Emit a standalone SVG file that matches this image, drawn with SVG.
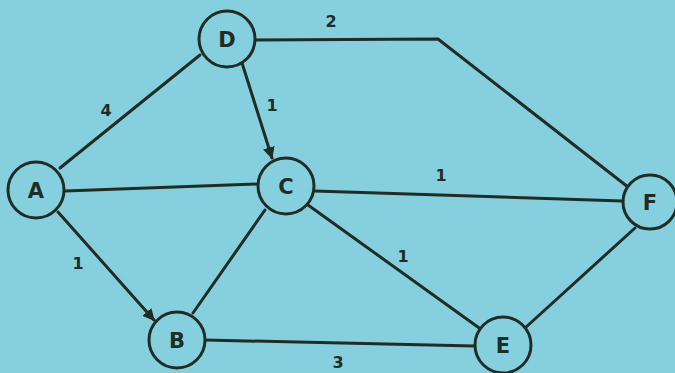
<svg xmlns="http://www.w3.org/2000/svg" width="675" height="373" viewBox="0 0 675 373">
<defs>
<marker id="arr" viewBox="0 0 10 10" refX="9" refY="5" markerWidth="4" markerHeight="4" orient="auto" markerUnits="strokeWidth">
<path d="M0,0 L10,5 L0,10 Z" fill="#1f2d24"/>
</marker>
</defs>
<style>
.edge{stroke:#1f2d24;stroke-width:3;fill:none;stroke-linecap:round;stroke-linejoin:round}
.node circle{fill:#86cfdf;stroke:#1f2d24;stroke-width:3}
.node text{font-family:"DejaVu Sans",sans-serif;font-weight:bold;font-size:21px;fill:#1f2d24;text-anchor:middle;dominant-baseline:central}
.lbl{font-family:"DejaVu Sans",sans-serif;font-weight:bold;font-size:16px;fill:#1f2d24;text-anchor:middle;dominant-baseline:central}
</style>
<rect width="675" height="373" fill="#86cfdf"/>
<g id="connectors">
<line class="edge" x1="60" y1="168" x2="200" y2="55"/>
<line class="edge" x1="65" y1="191" x2="258" y2="184"/>
<line class="edge" x1="242" y1="63" x2="272" y2="158" marker-end="url(#arr)"/>
<polyline class="edge" points="255,40 438,39 628,187"/>
<line class="edge" x1="315" y1="191" x2="622" y2="201"/>
<line class="edge" x1="308" y1="205" x2="482" y2="330"/>
<line class="edge" x1="525" y1="328" x2="635" y2="228"/>
<line class="edge" x1="58" y1="212" x2="154" y2="320" marker-end="url(#arr)"/>
<line class="edge" x1="265" y1="210" x2="193" y2="313"/>
<line class="edge" x1="205" y1="340" x2="474" y2="346"/>
<text class="lbl" x="106" y="110">4</text>
<text class="lbl" x="272" y="105">1</text>
<text class="lbl" x="331" y="21">2</text>
<text class="lbl" x="441" y="175">1</text>
<text class="lbl" x="403" y="256">1</text>
<text class="lbl" x="78" y="263">1</text>
<text class="lbl" x="338" y="362">3</text>
</g>
<g id="node-A" class="node"><circle cx="36" cy="190" r="28"/><text x="36" y="191">A</text></g>
<g id="node-B" class="node"><circle cx="177" cy="340" r="28"/><text x="177" y="341">B</text></g>
<g id="node-C" class="node"><circle cx="286" cy="186" r="28"/><text x="286" y="187">C</text></g>
<g id="node-D" class="node"><circle cx="227" cy="39" r="28"/><text x="227" y="40">D</text></g>
<g id="node-E" class="node"><circle cx="503" cy="345" r="28"/><text x="503" y="346">E</text></g>
<g id="node-F" class="node"><circle cx="650" cy="202" r="27"/><text x="650" y="203">F</text></g>
</svg>
